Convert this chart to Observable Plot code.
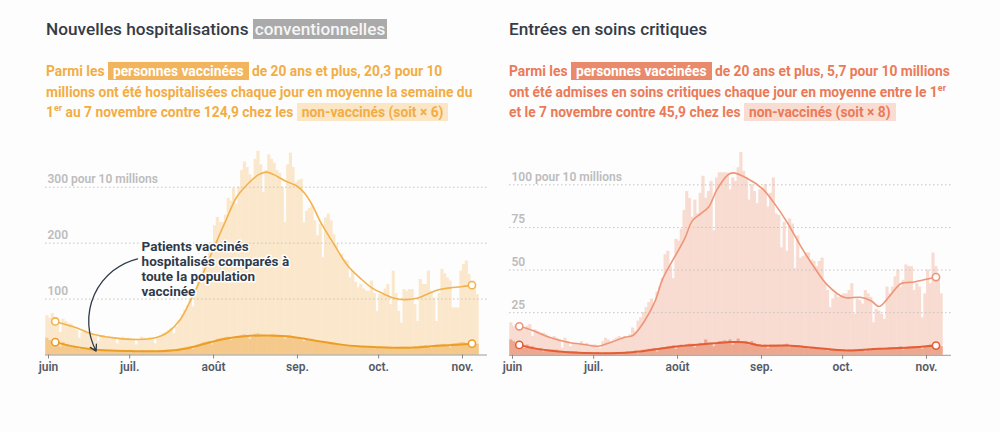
<!DOCTYPE html>
<html><head><meta charset="utf-8">
<script src="https://cdn.jsdelivr.net/npm/d3@7"></script>
<script src="https://cdn.jsdelivr.net/npm/@observablehq/plot@0.6"></script>
<style>
body{margin:0;background:#fdfdfd;font-family:Roboto,"Noto Sans",sans-serif;}
#wrap{position:relative;width:1000px;height:432px;overflow:hidden}
.title{position:absolute;top:17px;font-size:17.2px;font-weight:500;color:#343c48;white-space:nowrap;line-height:24px}
.title .hl{background:#aaaaaa;color:#f6f6f6;padding:0 2px}
.sub{position:absolute;top:61px;font-size:13.8px;font-weight:700;line-height:20.5px;white-space:nowrap}
.sub sup{font-size:9px;line-height:0;vertical-align:6px}
.s1{color:#f2ad45}
.s1 .a{background:#f2b45c;color:#fff;padding:1px 5px}
.s1 .b{background:#fbe6c6;padding:1px 5px}
.s2{color:#eb7a58}
.s2 .a{background:#e98a6c;color:#fff;padding:1px 5px}
.s2 .b{background:#f9dcd2;padding:1px 5px}
.chart{position:absolute;top:140px}
</style></head>
<body><div id="wrap">
<div class="title" style="left:46px">Nouvelles hospitalisations <span class="hl">conventionnelles</span></div>
<div class="sub s1" style="left:46px">Parmi les <span class="a">personnes vaccinées</span> de 20 ans et plus, 20,3 pour 10<br>millions ont été hospitalisées chaque jour en moyenne la semaine du<br>1<sup>er</sup> au 7 novembre contre 124,9 chez les <span class="b">non-vaccinés (soit × 6)</span></div>
<div class="title" style="left:509px">Entrées en soins critiques</div>
<div class="sub s2" style="left:509px">Parmi les <span class="a">personnes vaccinées</span> de 20 ans et plus, 5,7 pour 10 millions<br>ont été admises en soins critiques chaque jour en moyenne entre le 1<sup>er</sup><br>et le 7 novembre contre 45,9 chez les <span class="b">non-vaccinés (soit × 8)</span></div>
<div id="c1" class="chart" style="left:25px"></div>
<div id="c2" class="chart" style="left:489px"></div>
</div>
<script>
// ---- data (daily values, 31 May -> 6 Nov 2021, per 10 million) ----
const firstDay = "2021-05-31";
const monthTicks = ["2021-06-01","2021-07-01","2021-08-01","2021-09-01","2021-10-01","2021-11-01"];
const monthLabels = ["juin","juil.","août","sep.","oct.","nov."];

// Hospitalisations conventionnelles
const hospUnvax = [70,66,74,62,58,40,64,60,56,55, 48,44,30,40,44,38,42,36,33,24,
  34,35,31,33,30,28,20,30,32,29, 30,28,27,18,26,32,30,28,31,27,
  20,30,34,38,40,44,48,38,50,62, 72,80,88,100,86,110,132,145,160,172,
  190,200,231,246,237,237,250,280,275,298, 270,300,330,345,335,322,310,350,364,340,
  291,330,358,350,343,330,325,300,237,340, 361,335,308,312,314,236,257,262,267,240,
  213,234,174,245,252,240,215,198,180,180, 170,168,138,150,130,120,126,118,114,114,
  132,110,78,108,108,118,126,90,150,110, 78,57,117,114,117,117,90,60,135,126,
  126,150,114,102,60,110,153,145,138,132, 84,84,84,150,162,168,144,132,120,108];
const hospVax = [30,26,24,22,20,14,22, 18,17,15,16,14,10,12, 12,11,10,11,9,6,9,
  9,8,9,8,8,5,7, 8,7,8,7,7,4,6, 7,7,6,7,7,4,6, 8,8,9,9,9,6,8,
  11,12,13,14,15,10,14, 18,20,22,23,24,18,22, 28,29,30,31,32,26,28,
  33,34,35,36,34,28,32, 37,38,36,33,34,32,36, 36,35,35,33,28,34,34,
  32,31,31,29,24,28,27, 26,25,22,24,23,22,20, 20,19,18,19,17,16,17,
  16,16,13,15,15,14,13, 15,15,11,13,14,13,14, 14,12,10,12,13,14,14,
  14,12,10,15,15,16,16, 17,14,12,17,18,18,19, 19,16,13,20,20,21,22, 22,20,17,22,21,19];
const hospTrendDays = [3,10,17,24,31,38,42,45,49,52,56,59,62,66,70,74,78,81,84,88,92,95,98,101,106,111,116,120,124,128,132,137,141,145,149,153,157];
const hospTrendUnvax = [60,50,37,31,28,29,34,42,62,88,128,162,196,240,282,305,322,327,322,311,303,290,268,238,198,160,136,120,110,102,99,102,110,117,120,122,124.9];
const hospTrendVaxDays = [3,10,17,24,31,38,45,52,59,66,73,80,87,94,101,108,115,122,129,136,143,150,157];
const hospTrendVax = [23,15,10,8,7,6.5,7.5,12,21,29,33.5,35,34,30,24,19,15.5,14,13,13.5,16,18,20.3];
const hospYTicks = [100,200,300];
const hospYLabels = ["100","200","300 pour 10 millions"];

// Soins critiques
const icuUnvax = [19,17,18,17,16,15,17,18,11,15, 14,13,13,12,11,9,11,10,9,4,
  10,8,5,7,7,6,8,6,7,5, 6,6,5,4,8,10,9,8,9,10,
  11,10,11,10,12,16,14,20,22,25, 28,31,33,30,37,40,45,59,61,52,
  45,68,67,74,85,96,92,81,91,83, 95,105,92,96,102,73,104,107,107,107,
  107,97,104,102,110,119,108,104,91,100, 96,89,97,98,100,87,95,104,83,82,
  63,78,61,80,77,51,70,57,58,60, 60,56,55,52,55,57,42,38,28,33,
  36,34,35,36,36,38,42,24,33,32, 30,38,36,34,19,27,26,24,21,40,
  36,40,46,50,40,44,53,52,52,38, 42,40,22,36,50,42,60,52,44,36];
const icuVax = [9,8,7,6,6,4,6, 5,5,4,4,4,2,3, 3,3,3,3,2,1,2, 2,2,2,2,1.5,1,1.5,
  1.5,1.5,1,1,1.5,0.5,1, 1.5,1,1.5,1,1.5,0.5,1.5, 1.5,2,2,2,2.5,1,2,
  3,3,3.5,3.5,4,2,3.5, 4.5,4.5,5,5,5.5,3.5,5, 6,5.5,6,6.5,6.5,4.5,6,
  7,6.5,9,7,7,5,7, 8,8,8.5,8,9,6,8, 9.5,8,8,8,6,8,7, 6,6,5.5,6,4,6,6,
  6,6,5.5,6,6.5,4.5,5.5, 5.5,5,5,5,4.5,3.5,4.5, 4.5,4,4,4,3.5,2.5,3.5,
  3.5,3,3,3,3,2,3, 3,3,3,3.5,3.5,2,3.5, 3.5,4,4,4,4,3,4,
  4.5,4.5,4.5,4.5,5,3,4.5, 5,5,5,5,5,3.5,5, 5.5,6,6,6.5,6,5];
const icuTrendDays = [3,8,14,21,27,32,37,42,45,49,53,56,60,64,67,70,73,76,80,82,87,93,97,102,107,112,117,123,129,133,136,140,144,149,154,157];
const icuTrendUnvax = [17,14.5,10.6,7.7,6.3,5.3,7.7,10.6,11.6,19.4,31,44.8,56.5,68,79,83,87,97,105.7,107,104,97.5,89.7,78,64,51.6,41,34,34,32,28.6,35,42,43,44.8,45.9];
const icuTrendVaxDays = [3,8,14,21,33,45,53,61,70,80,86,92,102,112,124,136,149,157];
const icuTrendVax = [6.1,4.2,2.8,1.8,1.2,1.8,3.4,5.2,6.3,7.7,7.7,5.7,5.7,4.4,2.8,3.8,4.7,5.7];
const icuYTicks = [25,50,75,100];
const icuYLabels = ["25","50","75","100 pour 10 millions"];

// annotation (left panel)
const noteText = ["Patients vaccinés","hospitalisés comparés à","toute la population","vaccinée"];
const noteDay = 35.4, noteValue = 206;
const arrowFrom = {day: 33.9, value: 172}, arrowTo = {day: 18.6, value: 7};

// ---- helpers ----
const DAY = 864e5;
const t0 = new Date(firstDay + "T00:00:00Z").getTime();
const at = d => new Date(t0 + d * DAY);
const june1 = new Date("2021-06-01T00:00:00Z").getTime();
const xDomain = [new Date(june1 - 1.1086 * DAY), new Date(june1 - 1.1086 * DAY + 163.34 * DAY)];
const tickDates = monthTicks.map(s => new Date(s + "T00:00:00Z"));
const labelOf = d => monthLabels[tickDates.findIndex(t => +t === +d)];

function panel(el, o) {
  const rows = o.unvax.map((u, i) => ({x1: at(i), x2: at(i + 1), u, v: o.vax[i]}));
  const tU = o.tUdays.map((d, i) => ({x: at(d + 0.5), y: o.tU[i]}));
  const tV = o.tVdays.map((d, i) => ({x: at(d + 0.5), y: o.tV[i]}));
  const marks = [
    Plot.rectY(rows, {x1: "x1", x2: "x2", y: "u", fill: o.c.lightBar, insetRight: -0.45}),
    Plot.rectY(rows, {x1: "x1", x2: "x2", y: "v", fill: o.c.darkBar, insetRight: -0.45}),
    Plot.ruleY(o.yTicks, {stroke: "#c4c4c4", strokeDasharray: "1.5,2.5"}),
    Plot.text(o.yTicks, {y: d => d, text: (d, i) => o.yLabels[i], frameAnchor: "left", textAnchor: "start", dx: 2, dy: -8, fill: "#bcbcbc", fontSize: 12, fontWeight: 600}),
    Plot.ruleY([0], {stroke: "#9a9a9a"}),
    Plot.axisX(tickDates, {tickFormat: labelOf, tickSize: 4, tickPadding: 3, fontSize: 12, fontWeight: 600, fill: "#555b66", stroke: "#888"}),
    Plot.line(tU, {x: "x", y: "y", curve: "catmull-rom", stroke: o.c.lineU, strokeWidth: 1.6}),
    Plot.line(tV, {x: "x", y: "y", curve: "catmull-rom", stroke: o.c.lineV, strokeWidth: 2}),
    Plot.dot([tU[0], tU[tU.length - 1]], {x: "x", y: "y", r: 3.6, fill: "white", stroke: o.c.lineU, strokeWidth: 1.6}),
    Plot.dot([tV[0], tV[tV.length - 1]], {x: "x", y: "y", r: 3.6, fill: "white", stroke: o.c.lineV, strokeWidth: 1.6})
  ];
  if (o.note) {
    marks.push(
      Plot.arrow([o.note.arrow], {x1: d => at(d.from.day), y1: d => d.from.value, x2: d => at(d.to.day), y2: d => d.to.value, bend: -52, stroke: "#2f3a4a", strokeWidth: 1.3, headLength: 8}),
      Plot.text([o.note], {x: d => at(d.day), y: d => d.value, text: d => d.text, textAnchor: "start", lineAnchor: "top", lineHeight: 1.13, fontSize: 13.5, fontWeight: 700, fill: "#2f3a4a", stroke: "white", strokeWidth: 3, paintOrder: "stroke"})
    );
  }
  const chart = Plot.plot({
    width: 472, height: 245, marginLeft: 20, marginRight: 10, marginTop: 0, marginBottom: o.mb,
    style: {fontFamily: "Roboto, sans-serif", background: "transparent", overflow: "visible"},
    x: {type: "utc", domain: xDomain, axis: null},
    y: {domain: [0, o.yTicks[o.yTicks.length - 1]], range: o.yRange, axis: null},
    marks
  });
  document.getElementById(el).append(chart);
}

panel("c1", {
  unvax: hospUnvax, vax: hospVax, tUdays: hospTrendDays, tU: hospTrendUnvax, tVdays: hospTrendVaxDays, tV: hospTrendVax,
  yTicks: hospYTicks, yLabels: hospYLabels, yRange: [214.5, 46.7], mb: 30.5,
  c: {lightBar: "#fbe8cc", darkBar: "#f4c98b", lineU: "#f2b24e", lineV: "#ec9d26"},
  note: {day: noteDay, value: noteValue, text: noteText.join("\n"), arrow: {from: arrowFrom, to: arrowTo}}
});
panel("c2", {
  unvax: icuUnvax, vax: icuVax, tUdays: icuTrendDays, tU: icuTrendUnvax, tVdays: icuTrendVaxDays, tV: icuTrendVax,
  yTicks: icuYTicks, yLabels: icuYLabels, yRange: [214.8, 44.3], mb: 30.2,
  c: {lightBar: "#f8dbd1", darkBar: "#eda78f", lineU: "#ef9577", lineV: "#e35d35"}
});
</script>
</body></html>
